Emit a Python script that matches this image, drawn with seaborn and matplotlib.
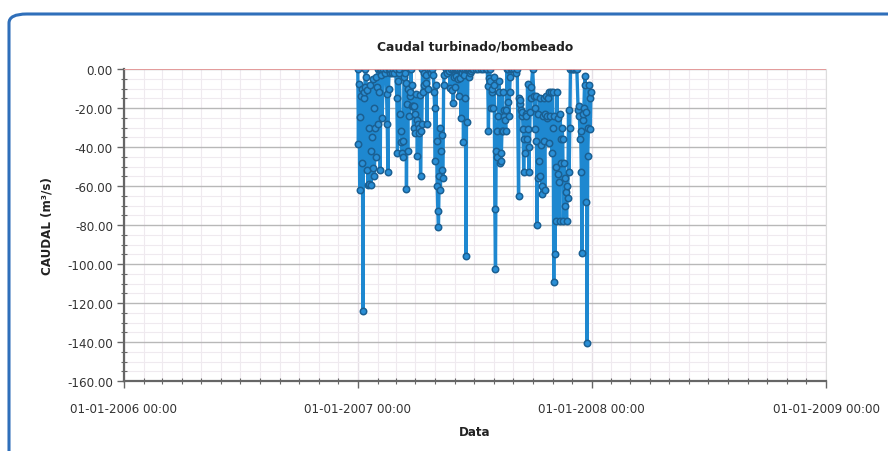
import numpy as np
import pandas as pd
import matplotlib
matplotlib.use("Agg")
import matplotlib.pyplot as plt
import matplotlib.dates as mdates
from matplotlib.patches import FancyBboxPatch
from matplotlib.ticker import MultipleLocator, FormatStrFormatter
import seaborn as sns

# day of year 2007 (0 = 1 Jan) and flow values
days = [0, 1, 2, 3, 4, 5, 6, 7, 8, 9, 10, 11, 12, 13,
        14, 15, 16, 17, 18, 19, 20, 21, 22, 23, 24, 25, 26, 27, 28, 29, 30, 31, 32, 33, 34, 35, 36, 37, 38,
        40, 42, 44, 45, 46, 47, 48, 49, 50, 51, 53, 55, 57, 59,
        61, 62, 63, 64, 65, 66, 67, 68, 69, 70, 71, 72, 73, 74,
        75, 76, 77, 78, 79, 80, 81, 82, 83, 84, 85,
        86, 87, 88, 89, 90, 91, 92, 93, 94,
        95, 96, 97, 98, 99, 100, 101, 102, 103, 104,
        106, 107, 108, 109, 110, 112, 114, 116, 118,
        119, 120, 121, 122, 123, 124, 125, 126, 127, 128,
        129, 130, 131, 132, 133, 134, 135, 137, 139, 141, 143,
        144, 145, 147, 148, 149, 150, 151, 152, 153, 154, 155, 156, 157, 158, 159, 160,
        161, 162, 163, 164, 165, 166, 167, 168, 169, 170, 171, 172, 173, 174, 175, 176, 177, 178,
        180, 184, 188, 192, 196, 200, 202,
        203, 204, 205, 206, 207, 208, 209, 210, 211, 212, 213, 214, 215, 216, 217, 218, 219, 220, 221,
        222, 223, 224, 225, 226, 227, 228, 229, 230, 231, 232, 233, 234, 235, 236, 237, 238, 239,
        241, 244, 247, 249,
        251, 252, 253, 254, 255, 256, 257, 258, 259, 260, 261, 262, 263, 264, 265, 266, 267, 268, 269, 270, 271, 273, 275, 276, 277,
        278, 279, 280, 281, 282, 283, 284, 285, 286, 287, 288, 289, 290, 291, 292, 293, 294, 295, 296, 297, 298, 299, 300,
        302, 303, 304, 305, 306, 307, 308, 309, 310, 311, 312, 313, 314, 315, 316, 317, 318, 319,
        320, 321, 322, 323, 324, 325, 326, 327, 328, 329, 330, 331,
        332, 334, 336, 338, 340, 342, 344,
        345, 346, 347, 348, 349, 350, 351, 352, 353, 354, 355, 356, 357, 358, 359, 360, 361, 362, 363, 364]

caudal = [0, -38.5, -7.5, -62, -24.6, -14, -48, -10, -124, -15, -12, -9, 0, -4,
          -52, -11, -59.5, -30, -59, -8, -42, -59.5, -35, -5, -51, -20, -55, -30, -4, -45, -9, 0, -28, -12, 0, -52, -3, 0, -25,
          0, -2, 0, -13, -28, -53, -10, 0, -2, 0, -2, 0, -2, 0,
          -15, -43, -6, -2, 0, -23, -31.6, -37.5, -43, -37, -45, -4, 0, -2,
          -7, -61.5, -18, -42, -10, -24, -14, -12, 0, -19, -8,
          -19, -30, -19, -33, -23, -13, -26, -44.5, -28,
          -30, -33, -13.5, -55, -32, -28, 0, -12, -8, -2,
          -7, -3, -28, 0, -10, 0, -2, 0, -3,
          -12, -20, -47, -8, -37, -60, -73, -81, -55, -30,
          -62, -42, -34, -52, -56, -8, -3, 0, -2, 0, -1,
          -9.7, 0, -10.7, 0, -17.4, -4, 0, -9, 0, -3.6, 0, -5, 0, -13.8, -4.6, 0,
          -25, 0, -2, 0, -37.5, -3, 0, -15, -96, 0, -27, 0, -4, 0, -2, 0, -1, 0,
          0, 0, 0, 0, 0, 0, 0,
          -8.5, -32, -4.6, 0, -6, -20, -12, -10, -20, -4, -8, -72, -102.5, -42, -45, -32, -24, -12, -6,
          -48, -43, -47, -32, -12, -32, -24, -21, -26, -32, -21, 0, -17, 0, -24, -12, -4, 0,
          0, 0, -2, 0,
          -65, -15, -18, -16, -21, -24, -22, -31, -53, -36, -43, -23, -24, -36, -7.8, -31, -53, -40, -22, -15, -9, 0, -14, -31, -20,
          -14, -37, -80, -23, -56, -47, -15, -55, -39, -64, -60, -24, -15, -37, -62, -23, -14, -25, -24, -15, -38, -12, -24,
          -12, -43, -12, -30, -109, -24, -95, -50, -78, -12, -54, -25, -58, -78, -23, -36, -48, -30,
          -36, -78, -48, -56, -70, -63, -78, -60, -66, -21, -53, -30,
          0, 0, 0, 0, 0, 0, -21,
          -19, -24, -36, -32, -53, -94.5, -26, -23, -20, -8, -3.5, -68, -22, -140.5, -44.5, -30, -8, -15, -31, -12]

df = pd.DataFrame({"Data": pd.Timestamp("2007-01-01") + pd.to_timedelta(days, unit="D"),
                   "Caudal": caudal})

sns.set_style("white")
plt.rcParams["font.family"] = ["DejaVu Sans"]

fig = plt.figure(figsize=(8.88, 4.52), dpi=100)

# rounded panel border (right and bottom edges run off the image)
panel = FancyBboxPatch((9 / 888, -0.05), 1.05, 1 - 15 / 452 + 0.05,
                       boxstyle="round,pad=0,rounding_size=0.02",
                       transform=fig.transFigure, fill=False,
                       edgecolor="#2f6fba", linewidth=2.2, clip_on=False)
fig.patches.append(panel)

ax = fig.add_axes([124 / 888, 1 - 382 / 452, (826 - 124) / 888, (382 - 70) / 452])

sns.lineplot(data=df, x="Data", y="Caudal", ax=ax, color="#1e88d0", linewidth=2.4,
             marker="o", markersize=4.6, markerfacecolor="#2a8fd6",
             markeredgecolor="#1a5f92", markeredgewidth=1.1, zorder=3)

ax.set_xlim(pd.Timestamp("2006-01-01"), pd.Timestamp("2009-01-01"))
ax.set_ylim(-160, 0)

ax.xaxis.set_major_locator(mdates.YearLocator())
ax.xaxis.set_minor_locator(mdates.MonthLocator())
ax.xaxis.set_major_formatter(mdates.DateFormatter("%d-%m-%Y %H:%M"))
ax.yaxis.set_major_locator(MultipleLocator(20))
ax.yaxis.set_minor_locator(MultipleLocator(5))
ax.yaxis.set_major_formatter(FormatStrFormatter("%.2f"))

ax.grid(which="major", axis="y", color="#b8b8b8", linewidth=1.0)
ax.grid(which="major", axis="x", color="#e6e0e6", linewidth=1.0)
ax.grid(which="minor", color="#efeaef", linewidth=0.8)
ax.set_axisbelow(True)
ax.axhline(0, color="#e89a9a", linewidth=1.3, zorder=4)

ax.spines["top"].set_visible(False)
ax.spines["right"].set_color("#dddddd")
for side in ["left", "bottom"]:
    ax.spines[side].set_color("#666666")
    ax.spines[side].set_linewidth(1.6)

ax.tick_params(which="major", direction="out", length=5, width=1, color="#666666",
               labelsize=8.6, labelcolor="#333333", pad=3, left=True, bottom=True)
ax.tick_params(which="minor", direction="inout", length=4, width=0.8, color="#666666",
               left=True, bottom=True)
ax.tick_params(axis="x", pad=10)

ax.set_title("Caudal turbinado/bombeado", fontsize=8.8, fontweight="bold", color="#222222", pad=14)
ax.set_xlabel("Data", fontsize=8.6, fontweight="bold", color="#222222", labelpad=7)
ax.set_ylabel("CAUDAL (m³/s)", fontsize=8.6, fontweight="bold", color="#222222", labelpad=10)

fig.savefig("out.png", dpi=100)
